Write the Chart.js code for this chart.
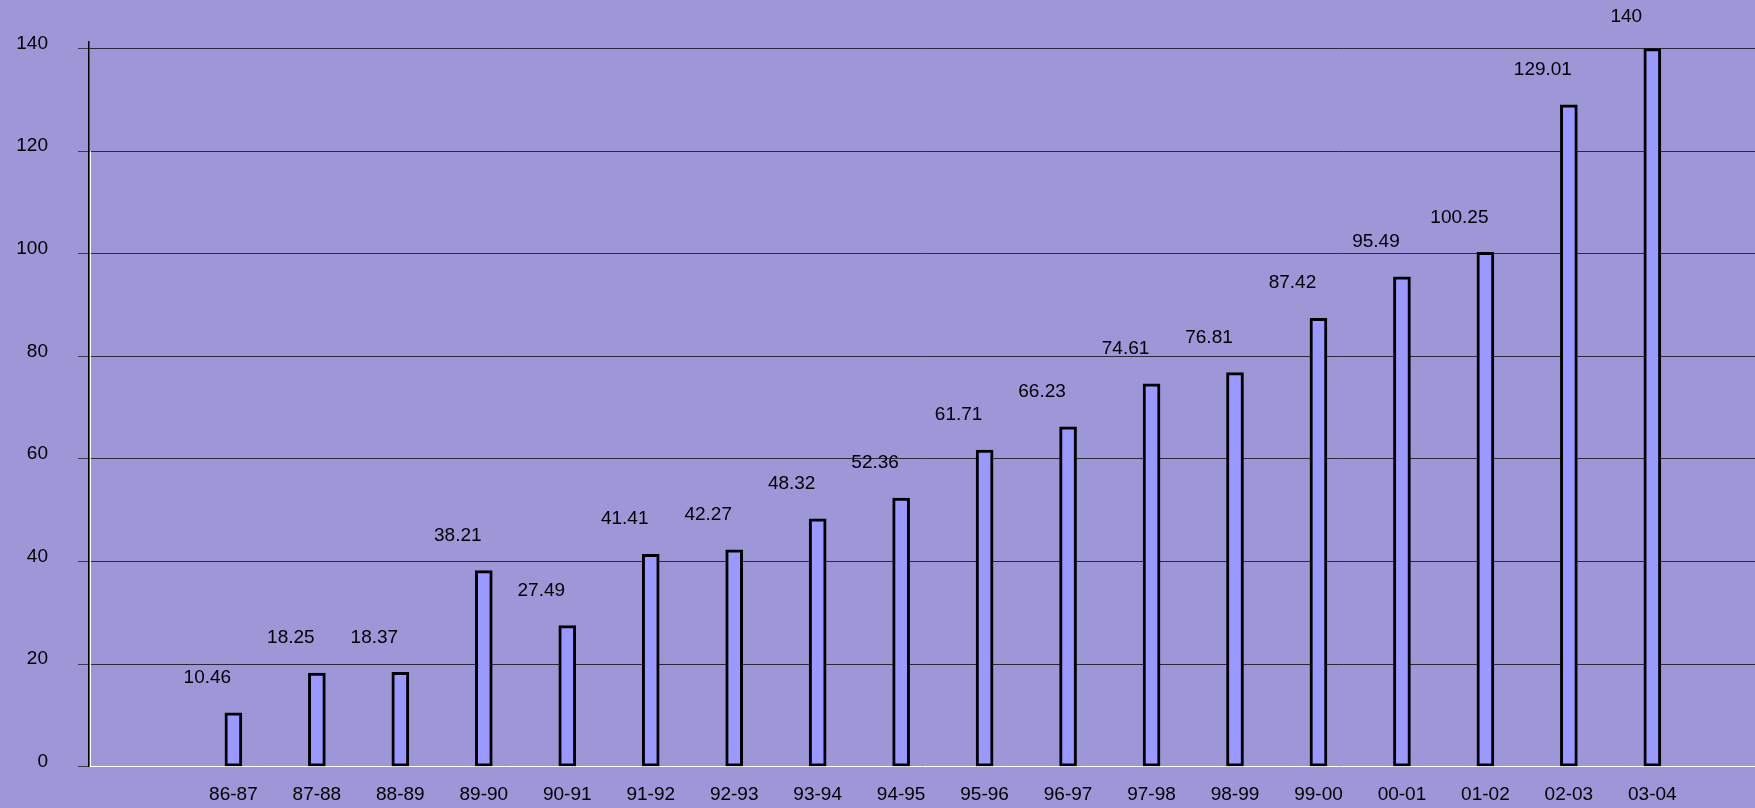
<!DOCTYPE html>
<html>
<head>
<meta charset="utf-8">
<script src="https://cdn.jsdelivr.net/npm/chart.js@4"></script>
<style>
  html, body { margin: 0; padding: 0; background: #9d96d7; overflow: hidden; }
  canvas { display: block; }
</style>
</head>
<body>
<canvas id="growthChart" width="1755" height="808"></canvas>
<script>
// Years and values
const categories = ['86-87', '87-88', '88-89', '89-90', '90-91', '91-92', '92-93', '93-94', '94-95',
  '95-96', '96-97', '97-98', '98-99', '99-00', '00-01', '01-02', '02-03', '03-04'];
const values = [10.46, 18.25, 18.37, 38.21, 27.49, 41.41, 42.27, 48.32, 52.36,
  61.71, 66.23, 74.61, 76.81, 87.42, 95.49, 100.25, 129.01, 140];
const yTicks = [0, 20, 40, 60, 80, 100, 120, 140];

const FONT = { family: '"Liberation Sans", Arial, sans-serif', size: 19 };

// Value labels sit up and to the left of each bar, like in the original
const valueLabels = {
  id: 'valueLabels',
  afterDatasetsDraw(chart) {
    const ctx = chart.ctx;
    const meta = chart.getDatasetMeta(0);
    ctx.save();
    ctx.font = `${FONT.size}px ${FONT.family}`;
    ctx.fillStyle = '#000';
    ctx.textAlign = 'center';
    ctx.textBaseline = 'middle';
    meta.data.forEach((bar, i) => {
      const y = Math.max(bar.y - 35, 17);
      ctx.fillText(String(values[i]), bar.x - 26, y);
    });
    ctx.restore();
  }
};

// thin white highlight next to the value axis (3d look of the old chart)
const axisHighlight = {
  id: 'axisHighlight',
  afterDraw(chart) {
    const { ctx, chartArea, scales } = chart;
    ctx.save();
    ctx.strokeStyle = '#ffffff';
    ctx.lineWidth = 1;
    ctx.beginPath();
    ctx.moveTo(chartArea.left + 1.5, scales.y.getPixelForValue(120));
    ctx.lineTo(chartArea.left + 1.5, chartArea.bottom);
    ctx.stroke();
    ctx.restore();
  }
};

const ctx = document.getElementById('growthChart').getContext('2d');
new Chart(ctx, {
  type: 'bar',
  data: {
    datasets: [{
      data: values.map((v, i) => ({ x: i, y: v })),
      backgroundColor: '#9999ff',
      borderColor: '#000000',
      borderWidth: 3,
      borderSkipped: false,
      barThickness: 17
    }]
  },
  options: {
    responsive: false,
    animation: false,
    layout: { padding: { top: 25, left: 0, right: 0, bottom: 0 } },
    plugins: {
      legend: { display: false },
      tooltip: { enabled: false },
      title: { display: false }
    },
    scales: {
      x: {
        type: 'linear',
        offset: false,
        min: -1.73,
        max: 18.23,
        grid: { display: false, drawTicks: false, offset: false },
        border: { display: true, color: '#ffffff', width: 1 },
        afterBuildTicks: scale => { scale.ticks = categories.map((c, i) => ({ value: i })); },
        afterFit: scale => { scale.height = 40; },
        ticks: {
          autoSkip: false,
          maxRotation: 0,
          padding: 17,
          color: '#000',
          font: FONT,
          callback: v => categories[v]
        }
      },
      y: {
        min: 0,
        max: 141.4,
        afterBuildTicks: scale => { scale.ticks = yTicks.map(v => ({ value: v })); },
        afterFit: scale => { scale.width = 89; },
        grid: { color: '#2a2a3a', lineWidth: 1, tickLength: 11, tickColor: '#3a3a4a' },
        border: { display: true, color: '#000000', width: 1.5 },
        ticks: {
          padding: 30,
          labelOffset: -5,
          color: '#000',
          font: FONT
        }
      }
    }
  },
  plugins: [valueLabels, axisHighlight]
});
</script>
</body>
</html>
